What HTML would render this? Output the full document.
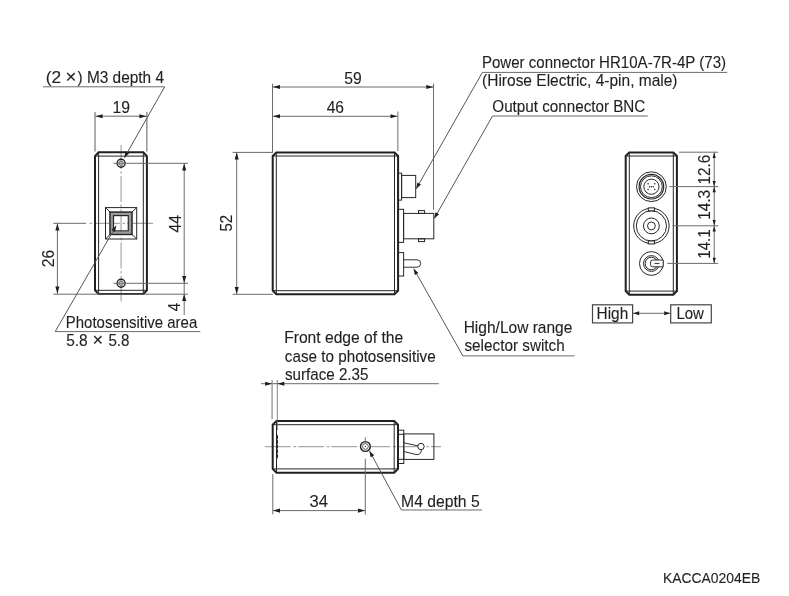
<!DOCTYPE html>
<html><head><meta charset="utf-8"><style>
html,body{margin:0;padding:0;background:#fff;}
svg{display:block;will-change:transform;}
text{font-family:"Liberation Sans",sans-serif;}
</style></head><body>
<svg width="789" height="596" viewBox="0 0 789 596">
<rect width="789" height="596" fill="#fff"/>
<line x1="121.10" y1="145.10" x2="121.10" y2="301.50" stroke="#a8a8a8" stroke-width="1.2" stroke-dasharray="26,2.4,2.5,2.3" stroke-dashoffset="2.2"/>
<line x1="89.60" y1="223.30" x2="153.80" y2="223.30" stroke="#a8a8a8" stroke-width="1.2" stroke-dasharray="2.6,2,25.8,2.6" stroke-dashoffset="0"/>
<polygon points="98.60,152.30 143.30,152.30 146.90,156.10 146.90,290.30 143.30,294.10 98.60,294.10 95.00,290.30 95.00,156.10" fill="none" stroke="#231f20" stroke-width="2.0"/>
<line x1="95.00" y1="156.10" x2="146.90" y2="156.10" stroke="#262626" stroke-width="1" />
<line x1="95.00" y1="290.30" x2="146.90" y2="290.30" stroke="#262626" stroke-width="1" />
<line x1="98.60" y1="152.30" x2="98.60" y2="294.10" stroke="#262626" stroke-width="1" />
<line x1="143.30" y1="152.30" x2="143.30" y2="294.10" stroke="#262626" stroke-width="1" />
<circle cx="121.10" cy="163.30" r="4.00" stroke="#1e1e1e" stroke-width="1.4" fill="none"/>
<circle cx="121.10" cy="163.30" r="2.20" stroke="#555" stroke-width="0.9" fill="none"/>
<line x1="113.50" y1="163.30" x2="188.00" y2="163.30" stroke="#6e6a69" stroke-width="1" />
<circle cx="121.10" cy="283.30" r="4.00" stroke="#1e1e1e" stroke-width="1.4" fill="none"/>
<circle cx="121.10" cy="283.30" r="2.20" stroke="#555" stroke-width="0.9" fill="none"/>
<line x1="113.50" y1="283.30" x2="188.00" y2="283.30" stroke="#6e6a69" stroke-width="1" />
<rect x="105.50" y="207.60" width="31.20" height="31.40" stroke="#262626" stroke-width="1" fill="none"/>
<rect x="111.20" y="213.30" width="19.60" height="19.90" stroke="#9a9a9a" stroke-width="3.5" fill="none"/>
<rect x="110.00" y="212.10" width="22.00" height="22.40" stroke="#262626" stroke-width="1.4" fill="none"/>
<rect x="113.50" y="215.60" width="14.80" height="15.30" stroke="#262626" stroke-width="1.2" fill="none"/>
<line x1="105.50" y1="207.60" x2="110.00" y2="212.10" stroke="#262626" stroke-width="1" />
<line x1="136.70" y1="207.60" x2="132.00" y2="212.10" stroke="#262626" stroke-width="1" />
<line x1="105.50" y1="239.00" x2="110.00" y2="234.50" stroke="#262626" stroke-width="1" />
<line x1="136.70" y1="239.00" x2="132.00" y2="234.50" stroke="#262626" stroke-width="1" />
<line x1="95.00" y1="112.00" x2="95.00" y2="151.50" stroke="#999" stroke-width="1.6" />
<line x1="146.80" y1="112.00" x2="146.80" y2="151.50" stroke="#999" stroke-width="1.6" />
<line x1="95.50" y1="116.20" x2="146.50" y2="116.20" stroke="#6e6a69" stroke-width="1" />
<polygon points="95.60,116.20 102.60,114.15 102.60,118.25" fill="#1e1e1e"/>
<polygon points="146.40,116.20 139.40,118.25 139.40,114.15" fill="#1e1e1e"/>
<text x="112.52" y="112.80" font-size="16.5" fill="#231f20" stroke="#231f20" stroke-width="0.12" textLength="17.53" lengthAdjust="spacingAndGlyphs">19</text>
<text x="45.66" y="82.50" font-size="16" fill="#231f20" stroke="#231f20" stroke-width="0.12" textLength="15.39" lengthAdjust="spacingAndGlyphs">(2</text>
<text x="65.49" y="82.50" font-size="19" fill="#231f20" stroke="#231f20" stroke-width="0.12" textLength="10.89" lengthAdjust="spacingAndGlyphs">×</text>
<text x="77.52" y="82.50" font-size="15.7" fill="#231f20" stroke="#231f20" stroke-width="0.12" textLength="86.53" lengthAdjust="spacingAndGlyphs">) M3 depth 4</text>
<line x1="43.00" y1="86.80" x2="164.70" y2="86.80" stroke="#6e6a69" stroke-width="1" />
<line x1="164.70" y1="86.80" x2="124.30" y2="157.80" stroke="#5a5656" stroke-width="1" />
<polygon points="124.30,157.80 125.44,151.55 129.09,153.62" fill="#1e1e1e"/>
<line x1="184.20" y1="163.30" x2="184.20" y2="315.00" stroke="#6e6a69" stroke-width="1" />
<polygon points="184.20,163.60 186.25,170.60 182.15,170.60" fill="#1e1e1e"/>
<polygon points="184.20,283.10 182.15,276.10 186.25,276.10" fill="#1e1e1e"/>
<polygon points="184.20,294.00 186.25,301.00 182.15,301.00" fill="#1e1e1e"/>
<line x1="53.40" y1="294.20" x2="188.00" y2="294.20" stroke="#6e6a69" stroke-width="1" />
<text transform="translate(180.90,232.62) rotate(-90)" x="0" y="0" font-size="16.5" fill="#231f20" stroke="#231f20" stroke-width="0.12" textLength="17.63" lengthAdjust="spacingAndGlyphs">44</text>
<text transform="translate(180.10,311.20) rotate(-90)" x="0" y="0" font-size="16" fill="#231f20" stroke="#231f20" stroke-width="0.12" textLength="8.48" lengthAdjust="spacingAndGlyphs">4</text>
<line x1="53.40" y1="223.30" x2="86.20" y2="223.30" stroke="#6e6a69" stroke-width="1" />
<line x1="57.40" y1="223.30" x2="57.40" y2="293.80" stroke="#6e6a69" stroke-width="1" />
<polygon points="57.40,223.50 59.45,230.50 55.35,230.50" fill="#1e1e1e"/>
<polygon points="57.40,293.60 55.35,286.60 59.45,286.60" fill="#1e1e1e"/>
<text transform="translate(53.90,267.18) rotate(-90)" x="0" y="0" font-size="16.5" fill="#231f20" stroke="#231f20" stroke-width="0.12" textLength="17.34" lengthAdjust="spacingAndGlyphs">26</text>
<line x1="55.20" y1="331.60" x2="200.30" y2="331.60" stroke="#6e6a69" stroke-width="1" />
<line x1="55.20" y1="331.60" x2="116.20" y2="225.70" stroke="#5a5656" stroke-width="1" />
<polygon points="116.20,225.70 115.02,231.95 111.39,229.85" fill="#1e1e1e"/>
<text x="65.80" y="327.50" font-size="15.7" fill="#231f20" stroke="#231f20" stroke-width="0.12" textLength="131.45" lengthAdjust="spacingAndGlyphs">Photosensitive area</text>
<text x="66.18" y="345.90" font-size="16.5" fill="#231f20" stroke="#231f20" stroke-width="0.12" textLength="21.54" lengthAdjust="spacingAndGlyphs">5.8</text>
<text x="92.43" y="345.90" font-size="19" fill="#231f20" stroke="#231f20" stroke-width="0.12" textLength="10.63" lengthAdjust="spacingAndGlyphs">×</text>
<text x="108.39" y="345.90" font-size="16.5" fill="#231f20" stroke="#231f20" stroke-width="0.12" textLength="21.12" lengthAdjust="spacingAndGlyphs">5.8</text>
<polygon points="276.30,152.40 394.50,152.40 398.10,156.00 398.10,290.70 394.50,294.30 276.30,294.30 272.70,290.70 272.70,156.00" fill="none" stroke="#231f20" stroke-width="2.0"/>
<line x1="272.70" y1="156.00" x2="398.10" y2="156.00" stroke="#262626" stroke-width="1" />
<line x1="272.70" y1="290.70" x2="398.10" y2="290.70" stroke="#262626" stroke-width="1" />
<line x1="276.30" y1="152.40" x2="276.30" y2="294.30" stroke="#262626" stroke-width="1" />
<line x1="394.50" y1="152.40" x2="394.50" y2="294.30" stroke="#262626" stroke-width="1" />
<rect x="398.10" y="173.20" width="3.50" height="26.90" stroke="#262626" stroke-width="1" fill="none"/>
<rect x="401.60" y="175.40" width="14.10" height="22.20" stroke="#262626" stroke-width="1" fill="none"/>
<rect x="398.10" y="209.30" width="5.50" height="33.10" stroke="#262626" stroke-width="1" fill="none"/>
<rect x="403.60" y="213.40" width="30.20" height="25.40" stroke="#262626" stroke-width="1" fill="none"/>
<rect x="418.50" y="210.60" width="6.10" height="2.80" stroke="#262626" stroke-width="1" fill="none"/>
<rect x="418.50" y="238.80" width="6.10" height="2.80" stroke="#262626" stroke-width="1" fill="none"/>
<rect x="398.10" y="252.60" width="5.50" height="23.40" stroke="#262626" stroke-width="1" fill="none"/>
<path d="M403.6,259.8 H417 A3.7,3.7 0 0 1 417,267.2 H403.6" fill="none" stroke="#333" stroke-width="1"/>
<line x1="272.50" y1="83.70" x2="272.50" y2="153.00" stroke="#6e6a69" stroke-width="1" />
<line x1="433.50" y1="83.70" x2="433.50" y2="209.60" stroke="#6e6a69" stroke-width="1" />
<line x1="397.80" y1="111.60" x2="397.80" y2="151.00" stroke="#999" stroke-width="1.4" />
<line x1="273.00" y1="87.00" x2="433.00" y2="87.00" stroke="#6e6a69" stroke-width="1" />
<polygon points="273.00,87.00 280.00,84.95 280.00,89.05" fill="#1e1e1e"/>
<polygon points="433.30,87.00 426.30,89.05 426.30,84.95" fill="#1e1e1e"/>
<line x1="273.00" y1="116.30" x2="397.50" y2="116.30" stroke="#6e6a69" stroke-width="1" />
<polygon points="273.00,116.30 280.00,114.25 280.00,118.35" fill="#1e1e1e"/>
<polygon points="397.50,116.30 390.50,118.35 390.50,114.25" fill="#1e1e1e"/>
<text x="344.27" y="84.20" font-size="16.5" fill="#231f20" stroke="#231f20" stroke-width="0.12" textLength="17.47" lengthAdjust="spacingAndGlyphs">59</text>
<text x="326.69" y="112.80" font-size="16.5" fill="#231f20" stroke="#231f20" stroke-width="0.12" textLength="17.37" lengthAdjust="spacingAndGlyphs">46</text>
<line x1="232.60" y1="152.40" x2="273.00" y2="152.40" stroke="#6e6a69" stroke-width="1" />
<line x1="232.60" y1="294.30" x2="273.00" y2="294.30" stroke="#6e6a69" stroke-width="1" />
<line x1="236.70" y1="152.40" x2="236.70" y2="294.30" stroke="#6e6a69" stroke-width="1" />
<polygon points="236.70,152.60 238.75,159.60 234.65,159.60" fill="#1e1e1e"/>
<polygon points="236.70,294.10 234.65,287.10 238.75,287.10" fill="#1e1e1e"/>
<text transform="translate(232.40,231.60) rotate(-90)" x="0" y="0" font-size="16.5" fill="#231f20" stroke="#231f20" stroke-width="0.12" textLength="16.79" lengthAdjust="spacingAndGlyphs">52</text>
<text x="481.90" y="68.30" font-size="15.7" fill="#231f20" stroke="#231f20" stroke-width="0.12" textLength="244.13" lengthAdjust="spacingAndGlyphs">Power connector HR10A-7R-4P (73)</text>
<text x="482.07" y="86.20" font-size="15.7" fill="#231f20" stroke="#231f20" stroke-width="0.12" textLength="195.43" lengthAdjust="spacingAndGlyphs">(Hirose Electric, 4-pin, male)</text>
<line x1="482.40" y1="72.40" x2="727.20" y2="72.40" stroke="#6e6a69" stroke-width="1" />
<line x1="482.40" y1="72.40" x2="416.20" y2="188.80" stroke="#5a5656" stroke-width="1" />
<polygon points="416.20,188.80 417.34,182.55 420.99,184.62" fill="#1e1e1e"/>
<text x="492.32" y="111.80" font-size="15.7" fill="#231f20" stroke="#231f20" stroke-width="0.12" textLength="153.03" lengthAdjust="spacingAndGlyphs">Output connector BNC</text>
<line x1="492.50" y1="116.00" x2="647.80" y2="116.00" stroke="#6e6a69" stroke-width="1" />
<line x1="492.50" y1="116.00" x2="434.30" y2="218.40" stroke="#5a5656" stroke-width="1" />
<polygon points="434.30,218.40 435.44,212.15 439.09,214.22" fill="#1e1e1e"/>
<text x="463.66" y="333.40" font-size="15.7" fill="#231f20" stroke="#231f20" stroke-width="0.12" textLength="108.73" lengthAdjust="spacingAndGlyphs">High/Low range</text>
<text x="464.44" y="351.00" font-size="15.7" fill="#231f20" stroke="#231f20" stroke-width="0.12" textLength="100.29" lengthAdjust="spacingAndGlyphs">selector switch</text>
<line x1="462.90" y1="355.90" x2="574.70" y2="355.90" stroke="#6e6a69" stroke-width="1" />
<line x1="462.90" y1="355.90" x2="413.70" y2="268.70" stroke="#5a5656" stroke-width="1" />
<polygon points="413.70,268.70 418.48,272.89 414.82,274.96" fill="#1e1e1e"/>
<polygon points="629.30,152.40 673.30,152.40 676.90,156.00 676.90,291.10 673.30,294.70 629.30,294.70 625.70,291.10 625.70,156.00" fill="none" stroke="#231f20" stroke-width="2.0"/>
<line x1="625.70" y1="156.00" x2="676.90" y2="156.00" stroke="#262626" stroke-width="1" />
<line x1="625.70" y1="291.10" x2="676.90" y2="291.10" stroke="#262626" stroke-width="1" />
<line x1="629.30" y1="152.40" x2="629.30" y2="294.70" stroke="#262626" stroke-width="1" />
<line x1="673.30" y1="152.40" x2="673.30" y2="294.70" stroke="#262626" stroke-width="1" />
<circle cx="651.40" cy="186.70" r="14.90" stroke="#262626" stroke-width="1" fill="none"/>
<circle cx="651.40" cy="186.70" r="12.30" stroke="#262626" stroke-width="1.2" fill="none"/>
<circle cx="651.40" cy="186.70" r="10.90" stroke="#262626" stroke-width="1" fill="none"/>
<circle cx="651.40" cy="186.70" r="7.60" stroke="#262626" stroke-width="1" fill="none"/>
<circle cx="648.07" cy="183.85" r="0.80" stroke="none" stroke-width="1" fill="#333"/>
<circle cx="654.73" cy="183.85" r="0.80" stroke="none" stroke-width="1" fill="#333"/>
<circle cx="648.07" cy="189.55" r="0.80" stroke="none" stroke-width="1" fill="#333"/>
<circle cx="654.73" cy="189.55" r="0.80" stroke="none" stroke-width="1" fill="#333"/>
<circle cx="649.50" cy="186.70" r="0.80" stroke="none" stroke-width="1" fill="#333"/>
<circle cx="651.40" cy="186.70" r="0.80" stroke="none" stroke-width="1" fill="#333"/>
<circle cx="653.30" cy="186.70" r="0.80" stroke="none" stroke-width="1" fill="#333"/>
<circle cx="651.40" cy="225.90" r="17.70" stroke="#262626" stroke-width="1" fill="none"/>
<circle cx="651.40" cy="225.90" r="15.10" stroke="#262626" stroke-width="1" fill="none"/>
<circle cx="651.40" cy="225.90" r="7.90" stroke="#262626" stroke-width="1" fill="none"/>
<circle cx="651.40" cy="225.90" r="3.90" stroke="#262626" stroke-width="1" fill="none"/>
<rect x="648.30" y="207.90" width="6.20" height="2.90" stroke="#262626" stroke-width="1" fill="#fff"/>
<rect x="648.30" y="241.00" width="6.20" height="2.90" stroke="#262626" stroke-width="1" fill="#fff"/>
<circle cx="651.40" cy="263.50" r="11.90" stroke="#262626" stroke-width="1" fill="none"/>
<circle cx="651.40" cy="263.50" r="7.90" stroke="#262626" stroke-width="1" fill="none"/>
<circle cx="651.40" cy="263.50" r="6.30" stroke="#262626" stroke-width="1" fill="none"/>
<path d="M663.2,260 H652.6 A2,2 0 0 0 650.6,262 V264.8 A2,2 0 0 0 652.6,266.8 H663.2 Z" fill="#fff" stroke="#333" stroke-width="1"/>
<line x1="654.50" y1="263.40" x2="659.50" y2="263.40" stroke="#333" stroke-width="1" />
<line x1="679.00" y1="152.20" x2="718.20" y2="152.20" stroke="#6e6a69" stroke-width="1" />
<line x1="669.30" y1="186.60" x2="718.20" y2="186.60" stroke="#6e6a69" stroke-width="1" />
<line x1="672.40" y1="225.80" x2="718.20" y2="225.80" stroke="#6e6a69" stroke-width="1" />
<line x1="667.30" y1="263.40" x2="718.20" y2="263.40" stroke="#6e6a69" stroke-width="1" />
<line x1="714.20" y1="152.20" x2="714.20" y2="263.40" stroke="#6e6a69" stroke-width="1" />
<polygon points="714.20,152.40 715.80,157.90 712.60,157.90" fill="#1e1e1e"/>
<polygon points="714.20,186.40 712.60,180.90 715.80,180.90" fill="#1e1e1e"/>
<polygon points="714.20,186.80 715.80,192.30 712.60,192.30" fill="#1e1e1e"/>
<polygon points="714.20,225.60 712.60,220.10 715.80,220.10" fill="#1e1e1e"/>
<polygon points="714.20,226.00 715.80,231.50 712.60,231.50" fill="#1e1e1e"/>
<polygon points="714.20,263.20 712.60,257.70 715.80,257.70" fill="#1e1e1e"/>
<text transform="translate(709.60,184.45) rotate(-90)" x="0" y="0" font-size="15.8" fill="#231f20" stroke="#231f20" stroke-width="0.12" textLength="29.78" lengthAdjust="spacingAndGlyphs">12.6</text>
<text transform="translate(709.60,219.86) rotate(-90)" x="0" y="0" font-size="15.8" fill="#231f20" stroke="#231f20" stroke-width="0.12" textLength="29.99" lengthAdjust="spacingAndGlyphs">14.3</text>
<text transform="translate(709.60,258.73) rotate(-90)" x="0" y="0" font-size="15.8" fill="#231f20" stroke="#231f20" stroke-width="0.12" textLength="29.43" lengthAdjust="spacingAndGlyphs">14.1</text>
<rect x="592.50" y="304.80" width="40.10" height="18.10" stroke="#444" stroke-width="1.2" fill="none"/>
<rect x="670.70" y="304.80" width="40.60" height="18.10" stroke="#444" stroke-width="1.2" fill="none"/>
<line x1="633.00" y1="313.30" x2="670.00" y2="313.30" stroke="#6e6a69" stroke-width="1" />
<polygon points="633.20,313.30 639.20,311.30 639.20,315.30" fill="#1e1e1e"/>
<polygon points="670.20,313.30 664.20,315.30 664.20,311.30" fill="#1e1e1e"/>
<text x="596.57" y="318.90" font-size="15.7" fill="#231f20" stroke="#231f20" stroke-width="0.12" textLength="31.66" lengthAdjust="spacingAndGlyphs">High</text>
<text x="676.40" y="318.90" font-size="15.7" fill="#231f20" stroke="#231f20" stroke-width="0.12" textLength="27.49" lengthAdjust="spacingAndGlyphs">Low</text>
<line x1="265.10" y1="446.60" x2="441.00" y2="446.60" stroke="#a8a8a8" stroke-width="1.2" stroke-dasharray="25.6,2.7,2.8,2.1" stroke-dashoffset="0"/>
<polygon points="276.50,420.90 394.20,420.90 398.00,424.70 398.00,468.90 394.20,472.70 276.50,472.70 272.70,468.90 272.70,424.70" fill="none" stroke="#231f20" stroke-width="2.0"/>
<line x1="272.70" y1="424.70" x2="398.00" y2="424.70" stroke="#262626" stroke-width="1" />
<line x1="272.70" y1="468.90" x2="398.00" y2="468.90" stroke="#262626" stroke-width="1" />
<line x1="276.50" y1="420.90" x2="276.50" y2="472.70" stroke="#262626" stroke-width="1" />
<line x1="394.20" y1="420.90" x2="394.20" y2="472.70" stroke="#262626" stroke-width="1" />
<path d="M276.6,434.5 q1.8,2.4 0,4.8 q1.8,2.4 0,4.8 q1.8,2.4 0,4.8 q1.8,2.4 0,4.8 q1.8,2.4 0,4.8" fill="none" stroke="#231f20" stroke-width="1.2"/>
<circle cx="365.40" cy="446.50" r="4.90" stroke="#1e1e1e" stroke-width="1.4" fill="#fff"/>
<circle cx="365.40" cy="446.50" r="2.90" stroke="#444" stroke-width="0.9" fill="none"/>
<circle cx="365.40" cy="446.50" r="0.70" stroke="none" stroke-width="1" fill="#555"/>
<line x1="365.30" y1="437.50" x2="365.30" y2="443.20" stroke="#6e6a69" stroke-width="1" />
<line x1="365.30" y1="458.70" x2="365.30" y2="514.50" stroke="#6e6a69" stroke-width="1" />
<rect x="398.00" y="430.20" width="5.80" height="33.30" stroke="#262626" stroke-width="1" fill="none"/>
<line x1="398.00" y1="434.30" x2="403.80" y2="434.30" stroke="#262626" stroke-width="1" />
<line x1="398.00" y1="459.30" x2="403.80" y2="459.30" stroke="#262626" stroke-width="1" />
<rect x="403.80" y="433.90" width="30.10" height="25.50" stroke="#262626" stroke-width="1" fill="none"/>
<path d="M403.8,442.8 L418.5,446" fill="none" stroke="#333" stroke-width="1"/>
<path d="M403.8,451.5 L416,454.5 Q421,455.5 421.5,449.5" fill="none" stroke="#333" stroke-width="1"/>
<circle cx="421.00" cy="446.50" r="3.20" stroke="#262626" stroke-width="1" fill="#fff"/>
<line x1="261.00" y1="383.70" x2="438.80" y2="383.70" stroke="#6e6a69" stroke-width="1" />
<line x1="272.10" y1="380.00" x2="272.10" y2="419.30" stroke="#999" stroke-width="1.4" />
<line x1="277.30" y1="380.00" x2="277.30" y2="430.00" stroke="#666" stroke-width="0.8" />
<polygon points="272.10,383.70 265.10,385.75 265.10,381.65" fill="#1e1e1e"/>
<polygon points="277.30,383.70 284.30,381.65 284.30,385.75" fill="#1e1e1e"/>
<text x="284.15" y="343.10" font-size="15.7" fill="#231f20" stroke="#231f20" stroke-width="0.12" textLength="119.08" lengthAdjust="spacingAndGlyphs">Front edge of the</text>
<text x="284.79" y="362.10" font-size="15.7" fill="#231f20" stroke="#231f20" stroke-width="0.12" textLength="150.90" lengthAdjust="spacingAndGlyphs">case to photosensitive</text>
<text x="284.94" y="379.90" font-size="15.7" fill="#231f20" stroke="#231f20" stroke-width="0.12" textLength="83.52" lengthAdjust="spacingAndGlyphs">surface 2.35</text>
<line x1="272.80" y1="474.10" x2="272.80" y2="514.30" stroke="#6e6a69" stroke-width="1" />
<line x1="273.00" y1="510.60" x2="365.00" y2="510.60" stroke="#6e6a69" stroke-width="1" />
<polygon points="273.00,510.60 280.00,508.55 280.00,512.65" fill="#1e1e1e"/>
<polygon points="365.00,510.60 358.00,512.65 358.00,508.55" fill="#1e1e1e"/>
<text x="309.53" y="507.00" font-size="16.5" fill="#231f20" stroke="#231f20" stroke-width="0.12" textLength="18.50" lengthAdjust="spacingAndGlyphs">34</text>
<text x="401.14" y="507.00" font-size="15.7" fill="#231f20" stroke="#231f20" stroke-width="0.12" textLength="78.54" lengthAdjust="spacingAndGlyphs">M4 depth 5</text>
<line x1="401.40" y1="510.00" x2="482.00" y2="510.00" stroke="#6e6a69" stroke-width="1" />
<line x1="401.40" y1="510.00" x2="369.50" y2="451.00" stroke="#5a5656" stroke-width="1" />
<polygon points="369.50,451.00 374.20,455.28 370.51,457.28" fill="#1e1e1e"/>
<text x="662.89" y="583.20" font-size="15.0" fill="#231f20" stroke="#231f20" stroke-width="0.12" textLength="97.47" lengthAdjust="spacingAndGlyphs">KACCA0204EB</text>
</svg></body></html>
